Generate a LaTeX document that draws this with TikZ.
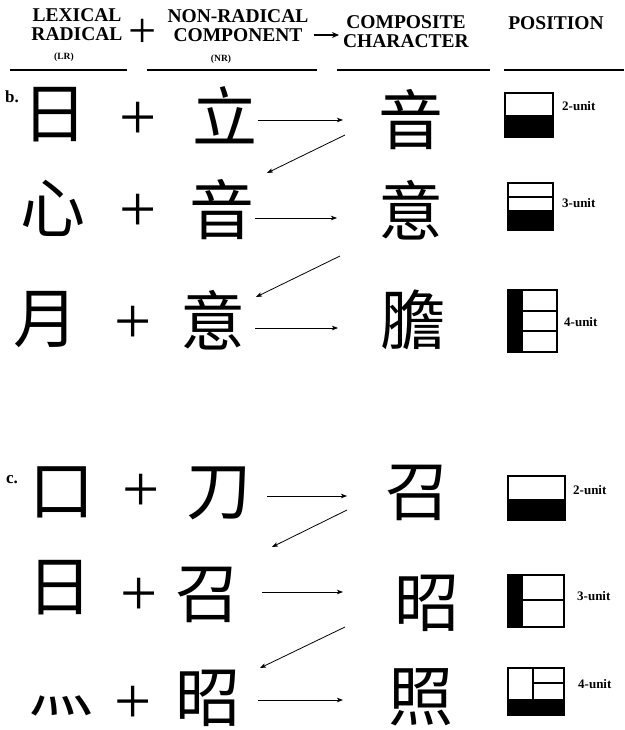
\documentclass[tikz,border=0pt]{standalone}
\usepackage{fontspec}
\setmainfont{Liberation Serif}
\newfontfamily\cjk{Noto Sans CJK TC}
\usetikzlibrary{arrows.meta}
\begin{document}
\begin{tikzpicture}[x=1pt,y=-1pt,
  han/.style={font=\cjk\fontsize{65}{65}\selectfont, inner sep=0pt},
  plus/.style={font=\fontsize{66}{66}\selectfont, inner sep=0pt, text height=33.4pt, text depth=0pt},
  hdr/.style={font=\bfseries\fontsize{19.5}{19}\selectfont, align=center, inner sep=0pt},
  abbr/.style={font=\bfseries\fontsize{9.5}{10}\selectfont, inner sep=0pt},
  unitlbl/.style={font=\bfseries\fontsize{13}{13}\selectfont, inner sep=0pt, anchor=west},
  sect/.style={font=\bfseries\fontsize{17}{17}\selectfont, inner sep=0pt},
  arr/.style={line width=0.8pt, -{Stealth[length=6pt,width=4.5pt,inset=1.5pt]}},
  boxln/.style={line width=1.4pt},
  rule/.style={line width=1.2pt}
]
\useasboundingbox (0,0) rectangle (624,730);
\fill[white] (0,0) rectangle (624,730);

% ---------------- header ----------------
\node[hdr] (hlr) at (77,25) {LEXICAL\\RADICAL};
\node[abbr] (hlrab) at (64,57) {(LR)};
\node[font=\fontsize{50}{50}\selectfont, inner sep=0pt] (hplus) at (143,33) {+};
\node[hdr] (hnr) at (238,26) {NON-RADICAL\\COMPONENT};
\node[abbr] (hnrab) at (221,59) {(NR)};
\coordinate (harrs) at (314,35);
\coordinate (harre) at (339,35);
\draw[line width=1.3pt, -{Stealth[length=7pt,width=6pt]}] (harrs) -- (harre);
\node[hdr] (hcc) at (406,32) {COMPOSITE\\CHARACTER};
\node[hdr] (hpos) at (556,23) {POSITION};
\coordinate (u1a) at (10,70);  \coordinate (u1b) at (127,70);
\coordinate (u2a) at (147,70); \coordinate (u2b) at (317,70);
\coordinate (u3a) at (337,70); \coordinate (u3b) at (490,70);
\coordinate (u4a) at (504,70); \coordinate (u4b) at (624,70);
\draw[rule] (u1a) -- (u1b);
\draw[rule] (u2a) -- (u2b);
\draw[rule] (u3a) -- (u3b);
\draw[rule] (u4a) -- (u4b);

% ---------------- section b ----------------
\node[sect] (lb) at (12,97) {b.};
\node[han] (b1lr) at (55,115) {日};
\node[plus] (b1p) at (138,123) {+};
\node[han] (b1nr) at (225,115) {立};
\node[han] (b1cc) at (411,120) {音};

\node[han] (b2lr) at (53,208) {心};
\node[plus] (b2p) at (138,215) {+};
\node[han] (b2nr) at (222,210) {音};
\node[han] (b2cc) at (411,210) {意};

\node[han] (b3lr) at (46,320) {月};
\node[plus] (b3p) at (133,327) {+};
\node[han] (b3nr) at (213,320) {意};
\node[han] (b3cc) at (413,320) {膽};

\coordinate (bh1s) at (258,120); \coordinate (bh1e) at (343,120);
\coordinate (bd1s) at (345,135); \coordinate (bd1e) at (267,173);
\coordinate (bh2s) at (255,218); \coordinate (bh2e) at (337,218);
\coordinate (bd2s) at (340,256); \coordinate (bd2e) at (256,297);
\coordinate (bh3s) at (255,328); \coordinate (bh3e) at (338,328);
\draw[arr] (bh1s) -- (bh1e);
\draw[arr] (bd1s) -- (bd1e);
\draw[arr] (bh2s) -- (bh2e);
\draw[arr] (bd2s) -- (bd2e);
\draw[arr] (bh3s) -- (bh3e);

% position boxes b
\fill (505,115) rectangle (553,137);
\draw[boxln] (505,93) rectangle (553,137);
\node[unitlbl] (bl1) at (562,106) {2-unit};

\fill (508,210) rectangle (553,230);
\draw[boxln] (508,183) rectangle (553,230);
\draw[boxln] (508,197) -- (553,197);
\node[unitlbl] (bl2) at (562,203) {3-unit};

\fill (508,290) rectangle (523,352);
\draw[boxln] (508,290) rectangle (557,352);
\draw[boxln] (523,311) -- (557,311);
\draw[boxln] (523,331) -- (557,331);
\node[unitlbl] (bl3) at (564,322) {4-unit};

% ---------------- section c ----------------
\node[sect] (lc) at (12,480) {c.};
\node[han] (c1lr) at (62,492) {口};
\node[plus] (c1p) at (141,495) {+};
\node[han] (c1nr) at (219,493) {刀};
\node[han] (c1cc) at (418,493) {召};

\node[han] (c2lr) at (60,588) {日};
\node[plus] (c2p) at (139,599) {+};
\node[han] (c2nr) at (208,595) {召};
\node[han] (c2cc) at (427,603) {昭};

\node[han] (c3lr) at (61,706) {灬};
\node[plus] (c3p) at (133,707) {+};
\node[han] (c3nr) at (208,698) {昭};
\node[han] (c3cc) at (421,697) {照};

\coordinate (ch1s) at (267,496); \coordinate (ch1e) at (347,496);
\coordinate (cd1s) at (347,510); \coordinate (cd1e) at (272,547);
\coordinate (ch2s) at (262,592); \coordinate (ch2e) at (343,592);
\coordinate (cd2s) at (345,627); \coordinate (cd2e) at (260,668);
\coordinate (ch3s) at (258,700); \coordinate (ch3e) at (343,700);
\draw[arr] (ch1s) -- (ch1e);
\draw[arr] (cd1s) -- (cd1e);
\draw[arr] (ch2s) -- (ch2e);
\draw[arr] (cd2s) -- (cd2e);
\draw[arr] (ch3s) -- (ch3e);

% position boxes c
\fill (508,499) rectangle (565,520);
\draw[boxln] (508,476) rectangle (565,520);
\node[unitlbl] (cl1) at (573,490) {2-unit};

\fill (508,575) rectangle (523,627);
\draw[boxln] (508,575) rectangle (564,627);
\draw[boxln] (523,600) -- (564,600);
\node[unitlbl] (cl2) at (577,596) {3-unit};

\fill (508,699) rectangle (564,715);
\draw[boxln] (508,668) rectangle (564,715);
\draw[boxln] (533,668) -- (533,699);
\draw[boxln] (533,683) -- (564,683);
\node[unitlbl] (cl3) at (578,684) {4-unit};
\end{tikzpicture}
\end{document}
